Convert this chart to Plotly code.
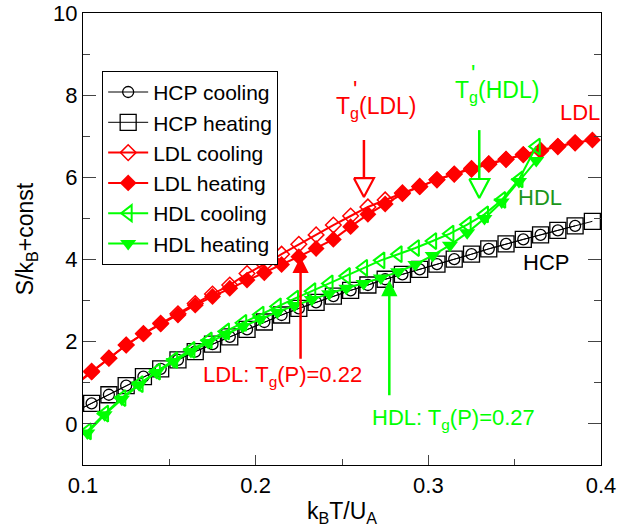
import plotly.graph_objects as go

# ---------------- data ----------------
hcp_cool_x = [0.095 + 0.01 * i for i in range(30)]
hcp_cool_y = [0.29, 0.50, 0.71, 0.93, 1.15, 1.34, 1.56, 1.76, 1.94, 2.12, 2.30, 2.48, 2.65, 2.81, 2.96,
              3.11, 3.25, 3.38, 3.52, 3.64, 3.76, 3.89, 4.01, 4.13, 4.26, 4.38, 4.49, 4.60, 4.71, 4.82]
hcp_heat_x = [0.095 + 0.01 * i for i in range(31)]
hcp_heat_y = hcp_cool_y + [4.93]

ldl_cool_x = [0.095 + 0.01 * i for i in range(30)]
ldl_cool_y = [0.95, 1.28, 1.60, 1.92, 2.20, 2.45, 2.68, 2.93, 3.16, 3.38, 3.66, 3.88, 4.13, 4.37, 4.60,
              4.84, 5.06, 5.28, 5.45, 5.62, 5.78, 5.94, 6.08, 6.20, 6.32, 6.44, 6.55, 6.65, 6.75, 6.84]
ldl_heat_x = [0.095 + 0.01 * i for i in range(31)]
ldl_heat_y = [0.93, 1.26, 1.60, 1.92, 2.19, 2.43, 2.65, 2.89, 3.10, 3.30, 3.50, 3.68, 3.88, 4.07, 4.27,
              4.49, 4.80, 5.10, 5.35, 5.60, 5.77, 5.95, 6.08, 6.22, 6.34, 6.44, 6.56, 6.66, 6.76, 6.84, 6.91]

hdl_x = [0.1025 + 0.01 * i for i in range(27)]
hdl_cool_y = [-0.18, 0.25, 0.63, 0.97, 1.27, 1.55, 1.80, 2.03, 2.25, 2.46, 2.66, 2.86, 3.05, 3.23,
              3.42, 3.60, 3.80, 3.98, 4.13, 4.28, 4.45, 4.63, 4.85, 5.10, 5.45, 5.95, 6.75]
hdl_heat_y = [-0.22, 0.22, 0.60, 0.95, 1.25, 1.52, 1.76, 1.98, 2.18, 2.37, 2.55, 2.72, 2.88, 3.03,
              3.17, 3.30, 3.42, 3.55, 3.70, 3.88, 4.10, 4.35, 4.65, 5.00, 5.40, 5.90, 6.41]

x_ticks = [0.1, 0.2, 0.3, 0.4]
y_ticks = [0, 2, 4, 6, 8, 10]

# annotation anchors (data coords)
tg_ldl_x, tg_ldl_tail, tg_ldl_tip = 0.226, 1.55, 4.07
tg_hdl_x, tg_hdl_tail, tg_hdl_tip = 0.2774, 0.66, 3.50
tgp_ldl_x, tgp_ldl_top, tgp_ldl_tip = 0.2627, 6.91, 5.52
tgp_hdl_x, tgp_hdl_top, tgp_hdl_tip = 0.3295, 7.15, 5.50
head_half_w = 0.0058   # half width of open arrow head (x units)
head_h = 0.46          # height of open arrow head (y units)

RED = "#ff0000"
GREEN = "#00ff00"
DKGREEN = "#1a961a"
FONT = "Liberation Sans, Arial, sans-serif"

fig = go.Figure()

fig.add_trace(go.Scatter(x=hcp_heat_x, y=hcp_heat_y, mode="lines+markers", name="HCP heating",
                         legendrank=2, line=dict(color="black", width=1),
                         marker=dict(symbol="square-open", size=16, color="black", line=dict(width=1.3))))
fig.add_trace(go.Scatter(x=hcp_cool_x, y=hcp_cool_y, mode="lines+markers", name="HCP cooling",
                         legendrank=1, line=dict(color="black", width=1),
                         marker=dict(symbol="circle-open", size=11, color="black", line=dict(width=1.3))))

fig.add_trace(go.Scatter(x=ldl_cool_x, y=ldl_cool_y, mode="lines+markers", name="LDL cooling",
                         legendrank=3, line=dict(color=RED, width=2),
                         marker=dict(symbol="diamond-open", size=12, color=RED, line=dict(width=1.5))))
fig.add_trace(go.Scatter(x=ldl_heat_x, y=ldl_heat_y, mode="lines+markers", name="LDL heating",
                         legendrank=4, line=dict(color=RED, width=2),
                         marker=dict(symbol="diamond", size=13, color=RED)))

fig.add_trace(go.Scatter(x=hdl_x, y=hdl_cool_y, mode="lines+markers", name="HDL cooling",
                         legendrank=5, line=dict(color=GREEN, width=2),
                         marker=dict(symbol="triangle-left-open", size=14, color=GREEN, line=dict(width=2))))
fig.add_trace(go.Scatter(x=hdl_x, y=hdl_heat_y, mode="lines+markers", name="HDL heating",
                         legendrank=6, line=dict(color=GREEN, width=2),
                         marker=dict(symbol="triangle-down", size=14, color=GREEN)))

# T'_g arrows: shaft + open triangular head
for xa, ytop, ytip, col in [(tgp_ldl_x, tgp_ldl_top, tgp_ldl_tip, RED),
                            (tgp_hdl_x, tgp_hdl_top, tgp_hdl_tip, GREEN)]:
    ybase = ytip + head_h
    fig.add_trace(go.Scatter(x=[xa, xa], y=[ytop, ybase], mode="lines", showlegend=False,
                             line=dict(color=col, width=2.5), hoverinfo="skip"))
    fig.add_trace(go.Scatter(x=[xa - head_half_w, xa + head_half_w, xa, xa - head_half_w],
                             y=[ybase, ybase, ytip, ybase], mode="lines", showlegend=False,
                             hoverinfo="skip", fill="toself", fillcolor="white",
                             line=dict(color=col, width=2.2)))

annos = []
for xa, tail, tip, col in [(tg_ldl_x, tg_ldl_tail, tg_ldl_tip, RED),
                           (tg_hdl_x, tg_hdl_tail, tg_hdl_tip, GREEN)]:
    annos.append(dict(x=xa, y=tip, ax=xa, ay=tail, xref="x", yref="y", axref="x", ayref="y",
                      showarrow=True, arrowhead=2, arrowsize=1.3, arrowwidth=2.5, arrowcolor=col, text=""))

def label(x, y, text, color, size=22, xshift=0, yshift=0):
    annos.append(dict(x=x, y=y, xref="x", yref="y", text=text, showarrow=False,
                      xshift=xshift, yshift=yshift,
                      font=dict(color=color, size=size, family=FONT)))

label(0.2158, 1.17, "LDL: T<sub>g</sub>(P)=0.22", RED)
label(0.3146, 0.12, "HDL: T<sub>g</sub>(P)=0.27", GREEN)
label(0.2700, 7.71, "T<sub>g</sub>(LDL)", RED, 23)
label(0.2700, 7.71, "'", RED, 23, xshift=-22, yshift=17)
label(0.3397, 8.10, "T<sub>g</sub>(HDL)", GREEN, 23)
label(0.3397, 8.10, "'", GREEN, 23, xshift=-24, yshift=17)
label(0.3878, 7.59, "LDL", RED)
label(0.3646, 5.52, "HDL", DKGREEN)
label(0.368, 3.92, "HCP", "black")

axis_common = dict(showline=True, linecolor="black", linewidth=1.2,
                   ticks="inside", tickcolor="#444", tickwidth=1.2,
                   showgrid=False, zeroline=False, automargin=False,
                   tickfont=dict(size=22, family=FONT, color="black"))

fig.update_layout(
    width=629, height=529,
    margin=dict(l=83, r=28, t=13, b=64),
    paper_bgcolor="white", plot_bgcolor="white",
    font=dict(family=FONT, color="black"),
    annotations=annos,
    showlegend=True,
    legend=dict(x=0.037, y=0.872, xanchor="left", yanchor="top",
                bordercolor="black", borderwidth=1, bgcolor="white",
                font=dict(size=21, family=FONT), itemwidth=40, tracegroupgap=0),
    xaxis=dict(range=[0.1, 0.4], tickvals=x_ticks, ticktext=[str(v) for v in x_ticks],
               mirror=True, ticklen=10,
               minor=dict(ticks="inside", ticklen=6, tickcolor="#444", dtick=0.05),
               title=dict(text="k<sub>B</sub>T/U<sub>A</sub>", font=dict(size=23, family=FONT), standoff=6),
               **axis_common),
    yaxis=dict(range=[-1, 10], tickvals=y_ticks, ticktext=[str(v) for v in y_ticks],
               mirror="ticks", ticklen=13,
               minor=dict(ticks="inside", ticklen=7, tickcolor="#444", dtick=1),
               title=dict(text="S/k<sub>B</sub>+const", font=dict(size=23, family=FONT), standoff=12),
               **axis_common),
)

fig.write_html("out.html")
